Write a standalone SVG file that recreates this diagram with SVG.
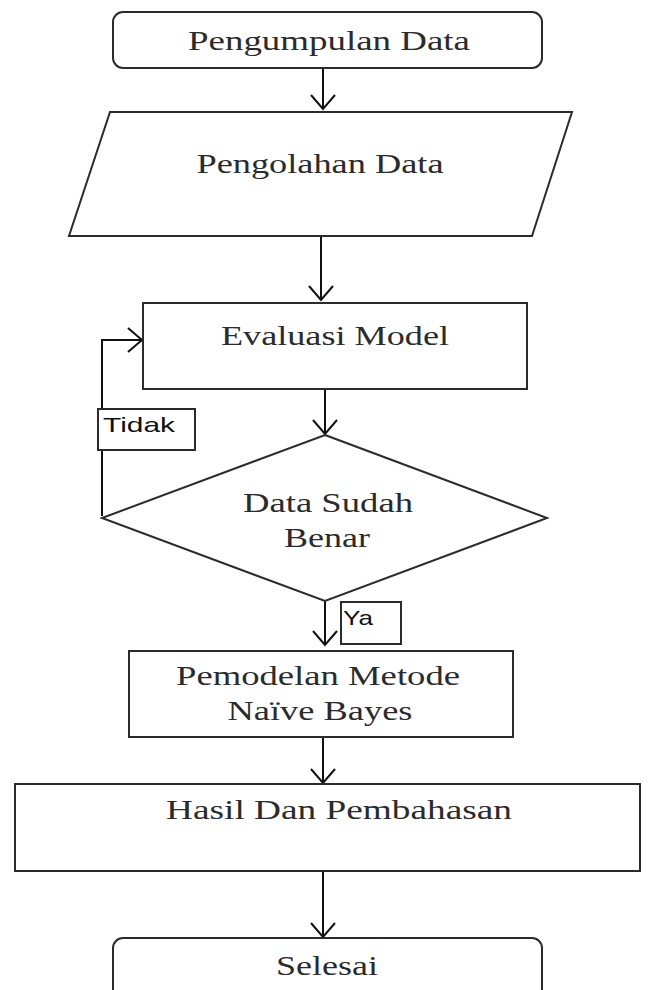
<svg xmlns="http://www.w3.org/2000/svg" width="651" height="990" viewBox="0 0 651 990">
<style>
.shape{fill:#fff;stroke:#2b2b2b;stroke-width:2}
.lbl{fill:#2b2b2b;font-family:"Liberation Serif","Times New Roman",serif;font-size:27px;text-anchor:middle}
.tag{fill:#111;font-family:"Liberation Sans",Arial,sans-serif;font-size:21px}
.conn{fill:none;stroke:#111;stroke-width:2}
</style>
<defs>
<marker id="arr" markerUnits="userSpaceOnUse" markerWidth="30" markerHeight="30" viewBox="-15 -15 30 30" refX="0" refY="0" orient="auto">
<path d="M-14,-12 L0,0 L-14,12" fill="none" stroke="#111" stroke-width="2"/>
</marker>
</defs>
<g id="connectors">
<line class="conn" x1="323" y1="68" x2="323" y2="109" marker-end="url(#arr)"/>
<line class="conn" x1="321" y1="236" x2="321" y2="300" marker-end="url(#arr)"/>
<line class="conn" x1="325" y1="389" x2="325" y2="434" marker-end="url(#arr)"/>
<polyline class="conn" points="102,516 102,340 142,340" marker-end="url(#arr)"/>
<line class="conn" x1="325" y1="601" x2="325" y2="645" marker-end="url(#arr)"/>
<line class="conn" x1="323" y1="737" x2="323" y2="783" marker-end="url(#arr)"/>
<line class="conn" x1="323" y1="871" x2="323" y2="937" marker-end="url(#arr)"/>
</g>
<g id="n1">
<rect class="shape" x="113" y="12" width="429" height="56" rx="10"/>
<text class="lbl" x="329" y="50" textLength="282" lengthAdjust="spacingAndGlyphs">Pengumpulan Data</text>
</g>
<g id="n2">
<polygon class="shape" points="110,112 572,112 532,236 69,236"/>
<text class="lbl" x="320" y="173" textLength="247" lengthAdjust="spacingAndGlyphs">Pengolahan Data</text>
</g>
<g id="n3">
<rect class="shape" x="143" y="303" width="384" height="86"/>
<text class="lbl" x="335" y="345" textLength="228" lengthAdjust="spacingAndGlyphs">Evaluasi Model</text>
</g>
<g id="tidak">
<rect class="shape" x="98" y="409" width="97" height="41"/>
<text class="tag" x="103" y="432" textLength="72" lengthAdjust="spacingAndGlyphs">Tidak</text>
</g>
<g id="n4">
<polygon class="shape" points="325,435 547,518 325,601 102,518"/>
<text class="lbl" x="328" y="512" textLength="170" lengthAdjust="spacingAndGlyphs">Data Sudah</text>
<text class="lbl" x="327" y="547" textLength="86" lengthAdjust="spacingAndGlyphs">Benar</text>
</g>
<g id="ya">
<rect class="shape" x="341" y="602" width="60" height="42"/>
<text class="tag" x="343" y="625" textLength="30" lengthAdjust="spacingAndGlyphs">Ya</text>
</g>
<g id="n5">
<rect class="shape" x="129" y="651" width="384" height="86"/>
<text class="lbl" x="318" y="685" textLength="284" lengthAdjust="spacingAndGlyphs">Pemodelan Metode</text>
<text class="lbl" x="320" y="720" textLength="185" lengthAdjust="spacingAndGlyphs">Naïve Bayes</text>
</g>
<g id="n6">
<rect class="shape" x="15" y="784" width="625" height="87"/>
<text class="lbl" x="339" y="819" textLength="346" lengthAdjust="spacingAndGlyphs">Hasil Dan Pembahasan</text>
</g>
<g id="n7">
<rect class="shape" x="113" y="938" width="429" height="70" rx="10"/>
<text class="lbl" x="327" y="975" textLength="102" lengthAdjust="spacingAndGlyphs">Selesai</text>
</g>
</svg>
